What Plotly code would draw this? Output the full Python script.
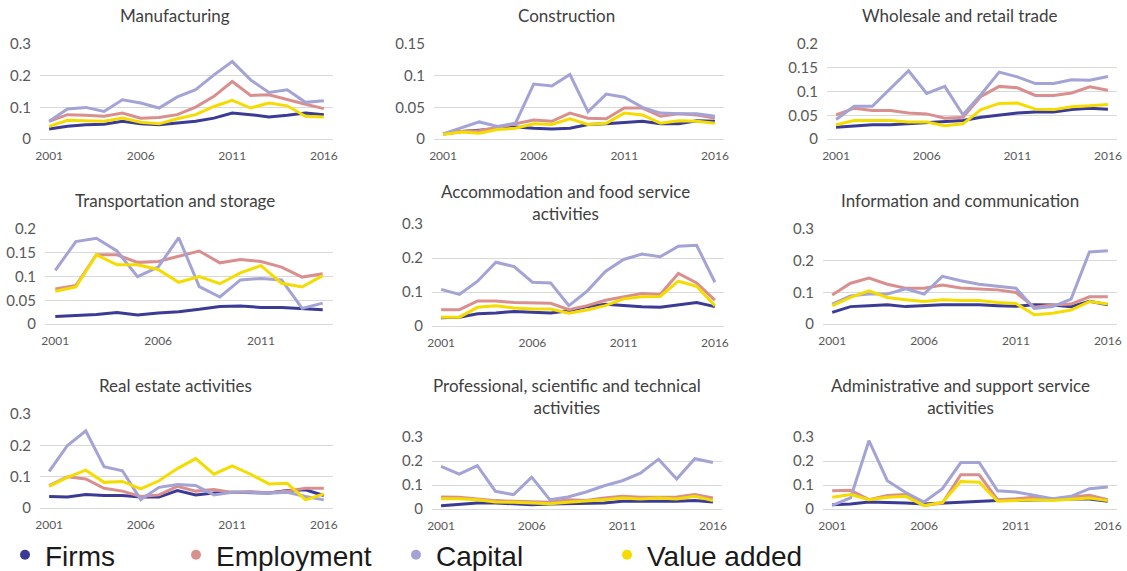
import plotly.graph_objects as go

W, H = 1127, 571

years16 = list(range(2001, 2017))
years14 = list(range(2001, 2015))
tick_years = [2001, 2006, 2011, 2016]

series_names = ["Firms", "Employment", "Capital", "Value added"]
series_colors = ["#3B3B96", "#DA8F8F", "#A3A3D6", "#F5DC00"]

# Manufacturing
manuf_firms = [0.032, 0.040, 0.045, 0.047, 0.056, 0.048, 0.045, 0.050, 0.056, 0.066, 0.082, 0.077, 0.070, 0.075, 0.082, 0.077]
manuf_emp = [0.056, 0.077, 0.075, 0.072, 0.082, 0.066, 0.068, 0.077, 0.101, 0.135, 0.182, 0.138, 0.140, 0.124, 0.110, 0.096]
manuf_cap = [0.056, 0.095, 0.100, 0.087, 0.124, 0.114, 0.098, 0.133, 0.156, 0.203, 0.245, 0.187, 0.147, 0.156, 0.116, 0.121]
manuf_va = [0.040, 0.059, 0.058, 0.056, 0.066, 0.053, 0.048, 0.064, 0.077, 0.103, 0.122, 0.098, 0.114, 0.105, 0.072, 0.070]

# Construction
constr_firms = [0.008, 0.012, 0.014, 0.017, 0.019, 0.017, 0.016, 0.017, 0.023, 0.024, 0.026, 0.028, 0.024, 0.024, 0.029, 0.028]
constr_emp = [0.008, 0.012, 0.013, 0.018, 0.024, 0.030, 0.028, 0.041, 0.033, 0.032, 0.049, 0.049, 0.036, 0.040, 0.038, 0.033]
constr_cap = [0.008, 0.017, 0.027, 0.020, 0.025, 0.087, 0.084, 0.102, 0.043, 0.071, 0.066, 0.050, 0.041, 0.040, 0.040, 0.036]
constr_va = [0.007, 0.011, 0.009, 0.015, 0.017, 0.024, 0.023, 0.032, 0.023, 0.025, 0.041, 0.038, 0.025, 0.029, 0.028, 0.025]

# Wholesale and retail trade
whole_firms = [0.025, 0.028, 0.030, 0.030, 0.032, 0.035, 0.036, 0.039, 0.046, 0.051, 0.055, 0.057, 0.057, 0.062, 0.065, 0.063]
whole_emp = [0.051, 0.065, 0.060, 0.060, 0.055, 0.053, 0.044, 0.046, 0.090, 0.111, 0.108, 0.092, 0.092, 0.097, 0.110, 0.103]
whole_cap = [0.041, 0.069, 0.069, 0.106, 0.144, 0.096, 0.111, 0.051, 0.094, 0.141, 0.131, 0.117, 0.117, 0.125, 0.124, 0.132]
whole_va = [0.030, 0.039, 0.039, 0.039, 0.036, 0.036, 0.028, 0.032, 0.062, 0.075, 0.076, 0.063, 0.062, 0.068, 0.070, 0.073]

# Transportation and storage (2001-2014)
trans_firms = [0.016, 0.018, 0.020, 0.024, 0.019, 0.023, 0.026, 0.031, 0.037, 0.038, 0.035, 0.035, 0.033, 0.030]
trans_emp = [0.074, 0.081, 0.146, 0.146, 0.130, 0.132, 0.143, 0.154, 0.129, 0.136, 0.132, 0.120, 0.099, 0.106]
trans_cap = [0.113, 0.174, 0.181, 0.154, 0.100, 0.120, 0.182, 0.079, 0.057, 0.093, 0.096, 0.093, 0.033, 0.044]
trans_va = [0.069, 0.078, 0.146, 0.125, 0.125, 0.115, 0.088, 0.100, 0.085, 0.108, 0.123, 0.086, 0.078, 0.102]

# Accommodation and food service activities
accom_firms = [0.024, 0.026, 0.036, 0.038, 0.043, 0.040, 0.038, 0.045, 0.057, 0.064, 0.060, 0.057, 0.055, 0.062, 0.069, 0.057]
accom_emp = [0.048, 0.048, 0.074, 0.074, 0.069, 0.067, 0.067, 0.048, 0.060, 0.076, 0.087, 0.096, 0.093, 0.155, 0.127, 0.076]
accom_cap = [0.108, 0.093, 0.132, 0.188, 0.175, 0.129, 0.127, 0.060, 0.103, 0.161, 0.196, 0.212, 0.204, 0.235, 0.238, 0.129]
accom_va = [0.026, 0.026, 0.055, 0.060, 0.053, 0.050, 0.050, 0.038, 0.047, 0.060, 0.080, 0.086, 0.087, 0.132, 0.117, 0.060]

# Information and communication
info_firms = [0.037, 0.055, 0.058, 0.061, 0.055, 0.058, 0.061, 0.061, 0.061, 0.058, 0.056, 0.061, 0.060, 0.055, 0.072, 0.061]
info_emp = [0.092, 0.129, 0.145, 0.126, 0.113, 0.113, 0.123, 0.114, 0.111, 0.108, 0.100, 0.053, 0.060, 0.063, 0.086, 0.086]
info_cap = [0.063, 0.089, 0.095, 0.095, 0.111, 0.095, 0.151, 0.137, 0.126, 0.119, 0.113, 0.049, 0.055, 0.079, 0.228, 0.232]
info_va = [0.058, 0.084, 0.105, 0.084, 0.077, 0.071, 0.077, 0.074, 0.074, 0.068, 0.065, 0.029, 0.034, 0.044, 0.071, 0.063]

# Real estate activities
real_firms = [0.037, 0.035, 0.043, 0.040, 0.040, 0.035, 0.035, 0.056, 0.042, 0.048, 0.050, 0.050, 0.048, 0.056, 0.058, 0.040]
real_emp = [0.072, 0.100, 0.093, 0.063, 0.054, 0.037, 0.042, 0.069, 0.054, 0.059, 0.050, 0.053, 0.048, 0.054, 0.063, 0.063]
real_cap = [0.117, 0.200, 0.247, 0.132, 0.119, 0.027, 0.066, 0.075, 0.072, 0.042, 0.050, 0.050, 0.047, 0.050, 0.037, 0.026]
real_va = [0.069, 0.098, 0.121, 0.082, 0.085, 0.061, 0.087, 0.126, 0.158, 0.108, 0.135, 0.108, 0.077, 0.079, 0.026, 0.045]

# Professional, scientific and technical activities
prof_firms = [0.014, 0.018, 0.025, 0.025, 0.021, 0.018, 0.021, 0.022, 0.025, 0.025, 0.032, 0.032, 0.029, 0.032, 0.035, 0.029]
prof_emp = [0.050, 0.049, 0.042, 0.035, 0.032, 0.029, 0.028, 0.039, 0.036, 0.046, 0.053, 0.049, 0.050, 0.050, 0.060, 0.046]
prof_cap = [0.178, 0.146, 0.181, 0.074, 0.060, 0.133, 0.039, 0.050, 0.071, 0.097, 0.118, 0.150, 0.208, 0.125, 0.210, 0.194]
prof_va = [0.043, 0.043, 0.039, 0.029, 0.028, 0.025, 0.022, 0.028, 0.032, 0.039, 0.046, 0.042, 0.046, 0.042, 0.053, 0.035]

# Administrative and support service activities
admin_firms = [0.018, 0.021, 0.029, 0.028, 0.025, 0.021, 0.025, 0.029, 0.035, 0.036, 0.036, 0.039, 0.039, 0.042, 0.042, 0.032]
admin_emp = [0.076, 0.078, 0.039, 0.056, 0.060, 0.015, 0.025, 0.143, 0.143, 0.039, 0.043, 0.049, 0.042, 0.049, 0.057, 0.039]
admin_cap = [0.015, 0.046, 0.285, 0.118, 0.069, 0.029, 0.085, 0.194, 0.194, 0.076, 0.071, 0.056, 0.043, 0.053, 0.085, 0.092]
admin_va = [0.049, 0.060, 0.039, 0.049, 0.053, 0.014, 0.028, 0.115, 0.112, 0.032, 0.035, 0.039, 0.036, 0.042, 0.046, 0.035]

panel_titles = [
    "Manufacturing", "Construction", "Wholesale and retail trade",
    "Transportation and storage", "Accommodation and food service<br>activities", "Information and communication",
    "Real estate activities", "Professional, scientific and technical<br>activities", "Administrative and support service<br>activities",
]
panel_years = [years16, years16, years16, years14, years16, years16, years16, years16, years16]
panel_data = [
    [manuf_firms, manuf_emp, manuf_cap, manuf_va],
    [constr_firms, constr_emp, constr_cap, constr_va],
    [whole_firms, whole_emp, whole_cap, whole_va],
    [trans_firms, trans_emp, trans_cap, trans_va],
    [accom_firms, accom_emp, accom_cap, accom_va],
    [info_firms, info_emp, info_cap, info_va],
    [real_firms, real_emp, real_cap, real_va],
    [prof_firms, prof_emp, prof_cap, prof_va],
    [admin_firms, admin_emp, admin_cap, admin_va],
]
panel_ymax = [0.3, 0.15, 0.2, 0.2, 0.3, 0.3, 0.3, 0.3, 0.3]
panel_dtick = [0.1, 0.05, 0.05, 0.05, 0.1, 0.1, 0.1, 0.1, 0.1]

# plot-area boxes in pixels: (left, right, top, bottom)
boxes = [
    (40, 333, 44, 139), (434, 724, 44, 139), (827, 1117, 44, 139),
    (45, 333, 229, 324), (432, 724, 224, 326), (823, 1117, 229, 324),
    (40, 333, 414, 508), (432, 722, 437, 509), (823, 1117, 437, 509),
]
# title centres in pixels
title_pos = [
    (175, 15), (566, 15), (959, 15),
    (175, 200), (565, 202), (960, 200),
    (175, 385), (567, 396), (960, 396),
]

FONT = "Lato, Carlito, Calibri, sans-serif"
GRID = "#D9D9D9"
TXT = "#595959"

fig = go.Figure()
layout = dict(
    width=W, height=H, margin=dict(l=0, r=0, t=0, b=0, autoexpand=False),
    paper_bgcolor="white", plot_bgcolor="white",
    font=dict(family=FONT, color=TXT),
    annotations=[],
)

for i in range(9):
    sfx = "" if i == 0 else str(i + 1)
    xa, ya = "x" + sfx, "y" + sfx
    yrs = panel_years[i]
    for s in range(4):
        fig.add_trace(go.Scatter(
            x=yrs, y=panel_data[i][s], mode="lines", name=series_names[s],
            line=dict(color=series_colors[s], width=3),
            xaxis=xa, yaxis=ya, showlegend=False,
        ))
    l, r, t, b = boxes[i]
    ticks = [y for y in tick_years if y in yrs]
    layout["xaxis" + sfx] = dict(
        domain=[l / W, r / W], anchor=ya, range=[yrs[0] - 0.5, yrs[-1] + 0.5],
        tickvals=ticks, ticktext=[str(v) for v in ticks], showgrid=False,
        showline=True, linecolor=GRID, linewidth=1, zeroline=False, ticks="",
        tickfont=dict(size=12, color=TXT, family=FONT), ticklabelstandoff=6,
        automargin=False, fixedrange=True,
    )
    layout["yaxis" + sfx] = dict(
        domain=[1 - b / H, 1 - t / H], anchor=xa, range=[0, panel_ymax[i] * 1.002],
        dtick=panel_dtick[i], tick0=0, showgrid=True, gridcolor=GRID, gridwidth=1,
        zeroline=False, showline=False, ticks="",
        tickfont=dict(size=15, color=TXT, family=FONT), ticklabelstandoff=8,
        automargin=False, fixedrange=True,
    )
    tx, ty = title_pos[i]
    layout["annotations"].append(dict(
        text=panel_titles[i], x=tx / W, y=1 - ty / H, xref="paper", yref="paper",
        xanchor="center", yanchor="middle", showarrow=False,
        font=dict(size=17, color="#404040", family=FONT),
    ))

# legend: one legend per entry so each can sit at its own position
legend_text_x = [46, 217, 437, 648]
for s in range(4):
    key = "legend" if s == 0 else "legend" + str(s + 1)
    fig.add_trace(go.Scatter(
        x=[None], y=[None], mode="markers", name=series_names[s],
        marker=dict(color=series_colors[s], size=10),
        legend=key, showlegend=True,
    ))
    layout[key] = dict(
        x=(legend_text_x[s] - 41) / W, y=1 - 555 / H, xanchor="left", yanchor="middle",
        orientation="h", itemwidth=30, bgcolor="rgba(0,0,0,0)",
        font=dict(size=28, color="#1A1A1A", family="Liberation Sans, Arial, sans-serif"),
    )

fig.update_layout(**layout)
fig.write_html(
    "out.html",
    config={"displayModeBar": False},
    post_script="document.body.style.margin='0px';",
)
